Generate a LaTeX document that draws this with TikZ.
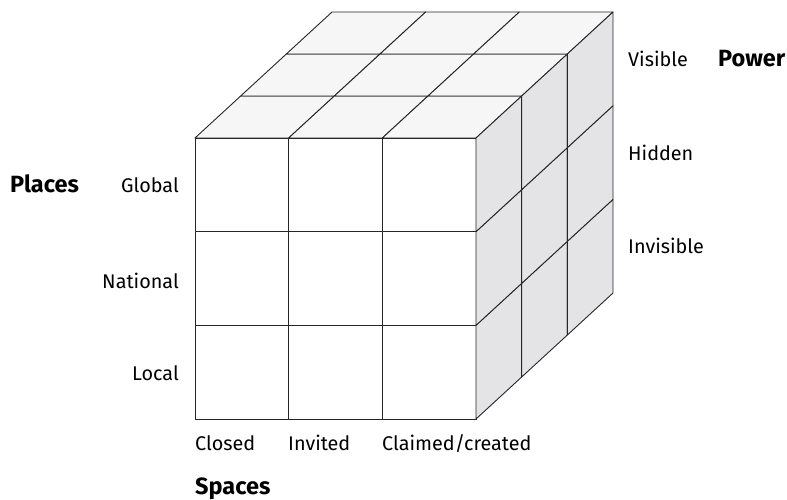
\documentclass[tikz,border=0pt]{standalone}
\usepackage{fontspec}
\setmainfont{Fira Sans}
\definecolor{topgray}{RGB}{245,246,245}
\definecolor{sidegray}{RGB}{228,228,230}
\begin{document}
\begin{tikzpicture}[x=1pt,y=1pt,
  face/.style={draw=black!85,line width=0.9pt,line join=round},
  lbl/.style={font=\fontsize{19.8}{23}\selectfont,inner sep=0pt,anchor=base west},
  dim/.style={font=\bfseries\fontsize{23.5}{27}\selectfont,inner sep=0pt,anchor=base west}]
  \useasboundingbox (0,0) rectangle (787,499);

  \def\a{93.67}% size of one cell
  \def\dx{45.67}% depth step, x
  \def\dy{42}% depth step, y
  \begin{scope}[shift={(195,80)}]
    % front face
    \foreach \i in {0,1,2}{
      \foreach \j in {0,1,2}{
        \draw[face,fill=white] (\i*\a,\j*\a) rectangle ++(\a,\a);
      }
    }
    % top face
    \foreach \i in {0,1,2}{
      \foreach \k in {0,1,2}{
        \draw[face,fill=topgray] ({\i*\a+\k*\dx},{3*\a+\k*\dy}) -- ++(\a,0)
          -- ++(\dx,\dy) -- ++(-\a,0) -- cycle;
      }
    }
    % right face
    \foreach \j in {0,1,2}{
      \foreach \k in {0,1,2}{
        \draw[face,fill=sidegray] ({3*\a+\k*\dx},{\j*\a+\k*\dy}) -- ++(\dx,\dy)
          -- ++(0,\a) -- ++(-\dx,-\dy) -- cycle;
      }
    }
  \end{scope}

  % places
  \node[dim] (places) at (10,306) {Places};
  \node[lbl,anchor=base east] (global) at (179,306) {Global};
  \node[lbl,anchor=base east] (national) at (179,211) {National};
  \node[lbl,anchor=base east] (local) at (179,119) {Local};
  % power
  \node[lbl] (visible) at (628,432) {Visible};
  \node[dim] (power) at (718,432) {Power};
  \node[lbl] (hidden) at (628,338) {Hidden};
  \node[lbl] (invisible) at (628,246) {Invisible};
  % spaces
  \node[lbl] (closed) at (195,49) {Closed};
  \node[lbl] (invited) at (288,49) {Invited};
  \node[lbl] (claimed) at (382,49) {Claimed/created};
  \node[dim] (spaces) at (195,5) {Spaces};
\end{tikzpicture}
\end{document}
